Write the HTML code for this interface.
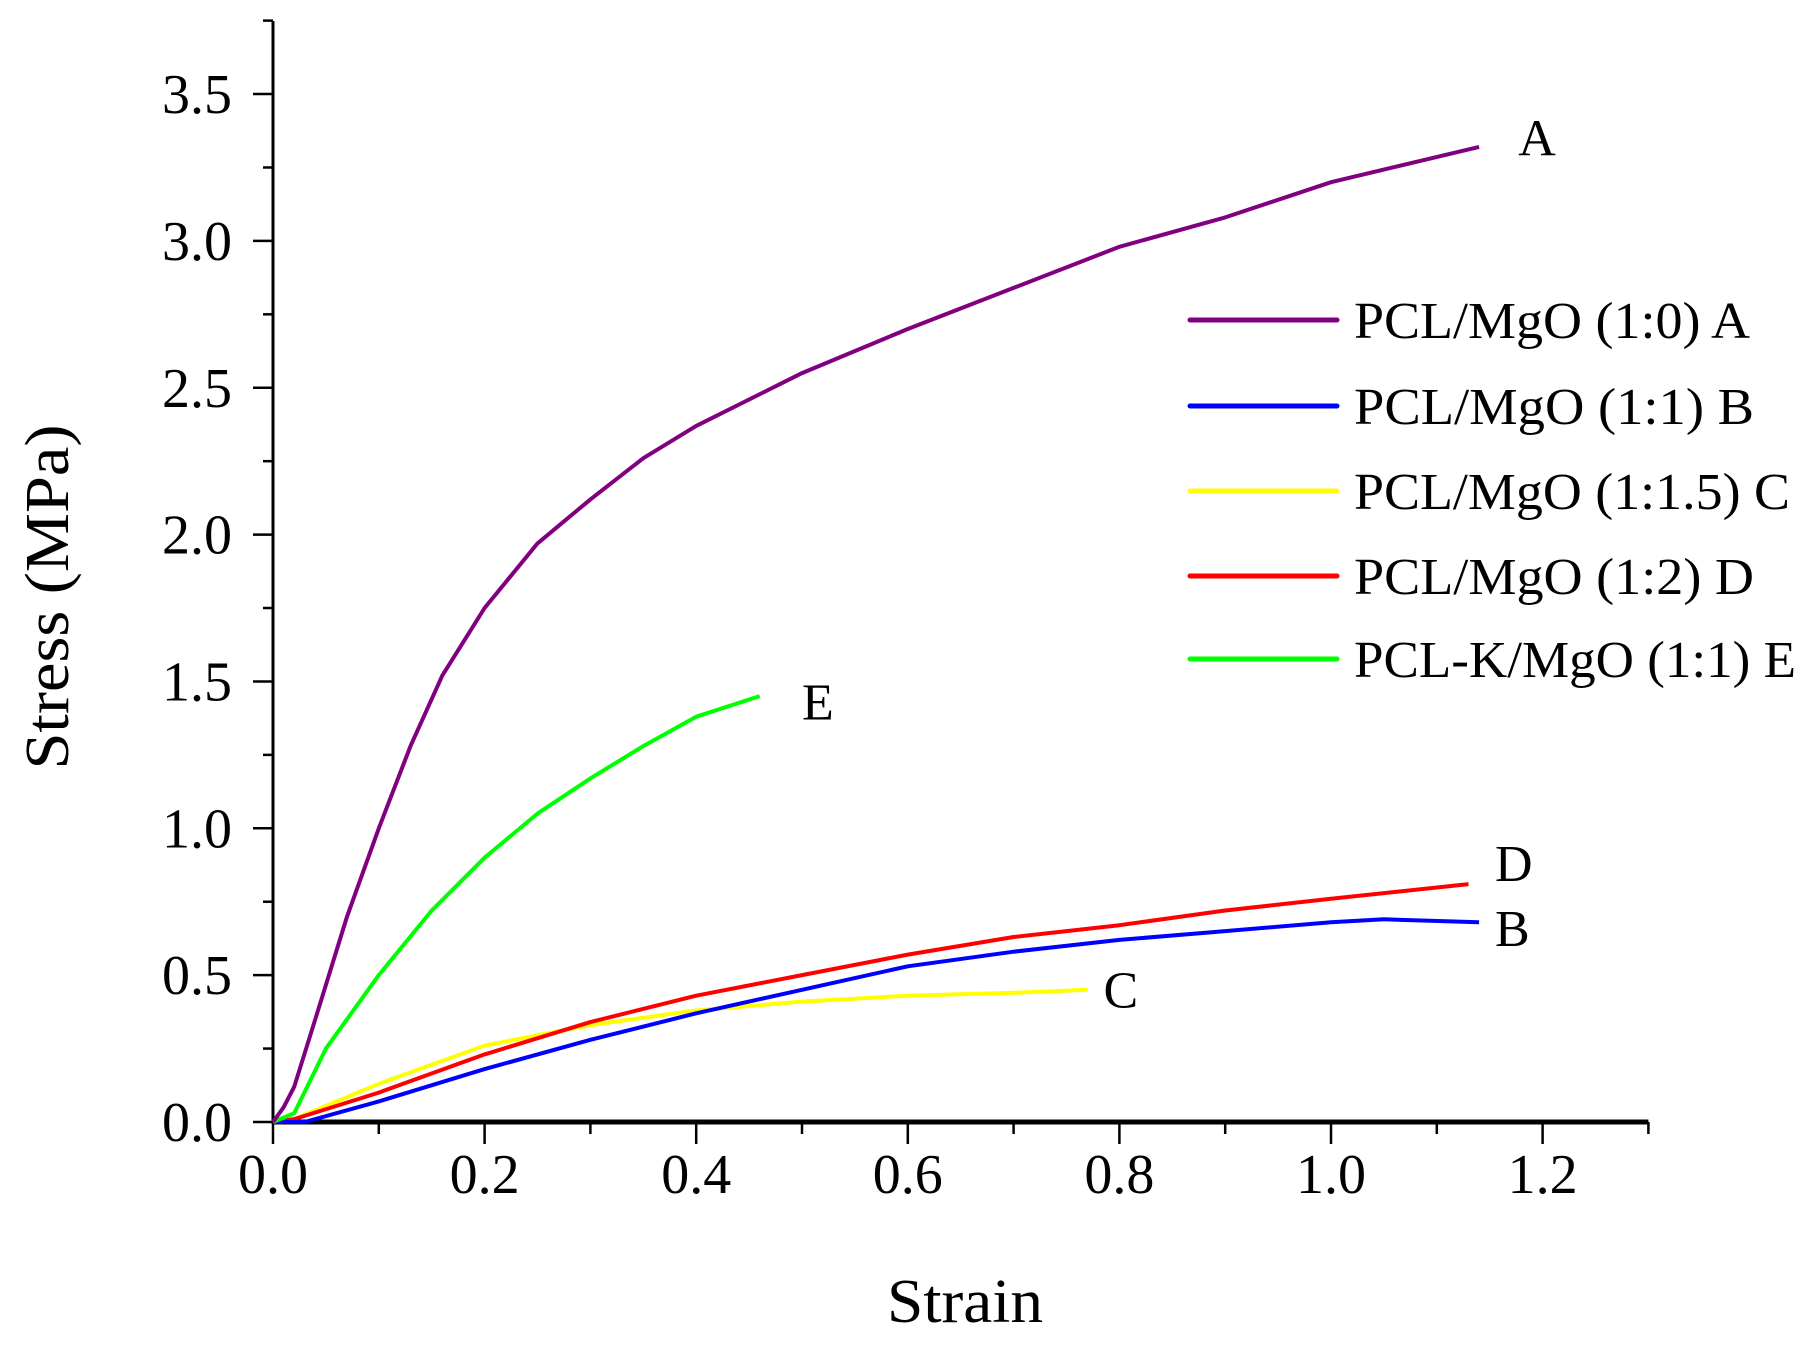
<!DOCTYPE html>
<html><head><meta charset="utf-8"><style>
html,body{margin:0;padding:0;background:#fff;}
svg{display:block;font-family:"Liberation Serif",serif;}
</style></head><body>
<svg id="chart" width="1808" height="1354" viewBox="0 0 1808 1354" xmlns="http://www.w3.org/2000/svg">
<g id="axes"></g>
<g id="series"></g>
<g id="legend"></g>
<text x="965" y="1322" font-size="62" text-anchor="middle" textLength="156" lengthAdjust="spacingAndGlyphs">Strain</text>
<text transform="translate(68,597) rotate(-90)" font-size="62" text-anchor="middle" textLength="345" lengthAdjust="spacingAndGlyphs">Stress (MPa)</text>
</svg>
<script>
const xTicks=[0,0.2,0.4,0.6,0.8,1.0,1.2];
const xTickLabels=["0.0","0.2","0.4","0.6","0.8","1.0","1.2"];
const yTicks=[0,0.5,1.0,1.5,2.0,2.5,3.0,3.5];
const yTickLabels=["0.0","0.5","1.0","1.5","2.0","2.5","3.0","3.5"];
const seriesNames=["PCL/MgO (1:0)  A","PCL/MgO (1:1)  B","PCL/MgO (1:1.5) C","PCL/MgO (1:2) D","PCL-K/MgO (1:1) E"];
const seriesColors=["#800080","#0000ff","#ffff00","#ff0000","#00ff00"];
const aX=[0,0.01,0.02,0.04,0.07,0.1,0.13,0.16,0.2,0.25,0.3,0.35,0.4,0.5,0.6,0.7,0.8,0.9,1.0,1.14];
const aY=[0,0.05,0.12,0.35,0.7,1.0,1.28,1.52,1.75,1.97,2.12,2.26,2.37,2.55,2.7,2.84,2.98,3.08,3.2,3.32];
const bX=[0,0.03,0.1,0.2,0.3,0.4,0.5,0.6,0.7,0.8,0.9,1.0,1.05,1.14];
const bY=[0,0,0.07,0.18,0.28,0.37,0.45,0.53,0.58,0.62,0.65,0.68,0.69,0.68];
const cX=[0,0.02,0.1,0.2,0.3,0.4,0.5,0.6,0.7,0.77];
const cY=[0,0.01,0.13,0.26,0.33,0.38,0.41,0.43,0.44,0.45];
const dX=[0,0.02,0.1,0.2,0.3,0.4,0.5,0.6,0.7,0.8,0.9,1.0,1.13];
const dY=[0,0.01,0.1,0.23,0.34,0.43,0.5,0.57,0.63,0.67,0.72,0.76,0.81];
const eX=[0,0.02,0.05,0.1,0.15,0.2,0.25,0.3,0.35,0.4,0.46];
const eY=[0,0.03,0.25,0.5,0.72,0.9,1.05,1.17,1.28,1.38,1.45];
const endLabels=["A","B","C","D","E"];
const endLabelX=[1.177,1.155,0.785,1.155,0.5];
const endLabelY=[3.29,0.6,0.39,0.82,1.37];

const X0=273,XS=1058,Y0=1122,YS=293.7;
function sx(v){return X0+v*XS;}
function sy(v){return Y0-v*YS;}
const NS="http://www.w3.org/2000/svg";
function mk(tag,attrs,parent){const e=document.createElementNS(NS,tag);for(const k in attrs)e.setAttribute(k,attrs[k]);parent.appendChild(e);return e;}
const axes=document.getElementById('axes');
let e;
e=mk('line',{x1:sx(0),y1:sy(0),x2:sx(1.3),y2:sy(0),stroke:'#000','stroke-width':5},axes);


e=mk('line',{x1:sx(0),y1:sy(0)+2,x2:sx(0),y2:21,stroke:'#000','stroke-width':3},axes);


for(let i=0;i<=13;i++){const v=i*0.1;const maj=i%2==0;
 e=mk('line',{x1:sx(v),y1:sy(0),x2:sx(v),y2:sy(0)+(maj?22:12),stroke:'#000','stroke-width':2.5},axes);
 
 }
xTicks.forEach((v,i)=>{e=mk('text',{x:sx(v),y:1193,'font-size':56,'text-anchor':'middle'},axes);e.textContent=xTickLabels[i];
 
 });
for(let i=0;i<=15;i++){const v=i*0.25;const maj=i%2==0;
 e=mk('line',{x1:sx(0),y1:sy(v),x2:sx(0)-(maj?20:10),y2:sy(v),stroke:'#000','stroke-width':2.5},axes);
 
 }
yTicks.forEach((v,i)=>{e=mk('text',{x:232,y:sy(v)+19,'font-size':56,'text-anchor':'end'},axes);e.textContent=yTickLabels[i];
 
 });
const seriesG=document.getElementById('series');
const xs=[aX,bX,cX,dX,eX],ys=[aY,bY,cY,dY,eY];
const order=[2,3,1,4,0];
order.forEach(s=>{
 const pts=xs[s].map((x,j)=>sx(x).toFixed(1)+','+sy(ys[s][j]).toFixed(1)).join(' ');
 e=mk('polyline',{points:pts,fill:'none',stroke:seriesColors[s],'stroke-width':4,'stroke-linejoin':'round'},seriesG);
 
 
});
endLabels.forEach((t,i)=>{e=mk('text',{x:sx(endLabelX[i]),y:sy(endLabelY[i]),'font-size':52},seriesG);e.textContent=t;
 
 });
const leg=document.getElementById('legend');
const rowY=[320,406,491,576,659];
const textW=[396,400,436,400,442];
seriesNames.forEach((n,i)=>{
 e=mk('line',{x1:1190,y1:rowY[i],x2:1337,y2:rowY[i],stroke:seriesColors[i],'stroke-width':5,'stroke-linecap':'round'},leg);
 
 
 e=mk('text',{x:1354,y:rowY[i]+18,'font-size':52,textLength:textW[i],lengthAdjust:'spacingAndGlyphs'},leg);e.textContent=n;
 
 
});
</script>
</body></html>
